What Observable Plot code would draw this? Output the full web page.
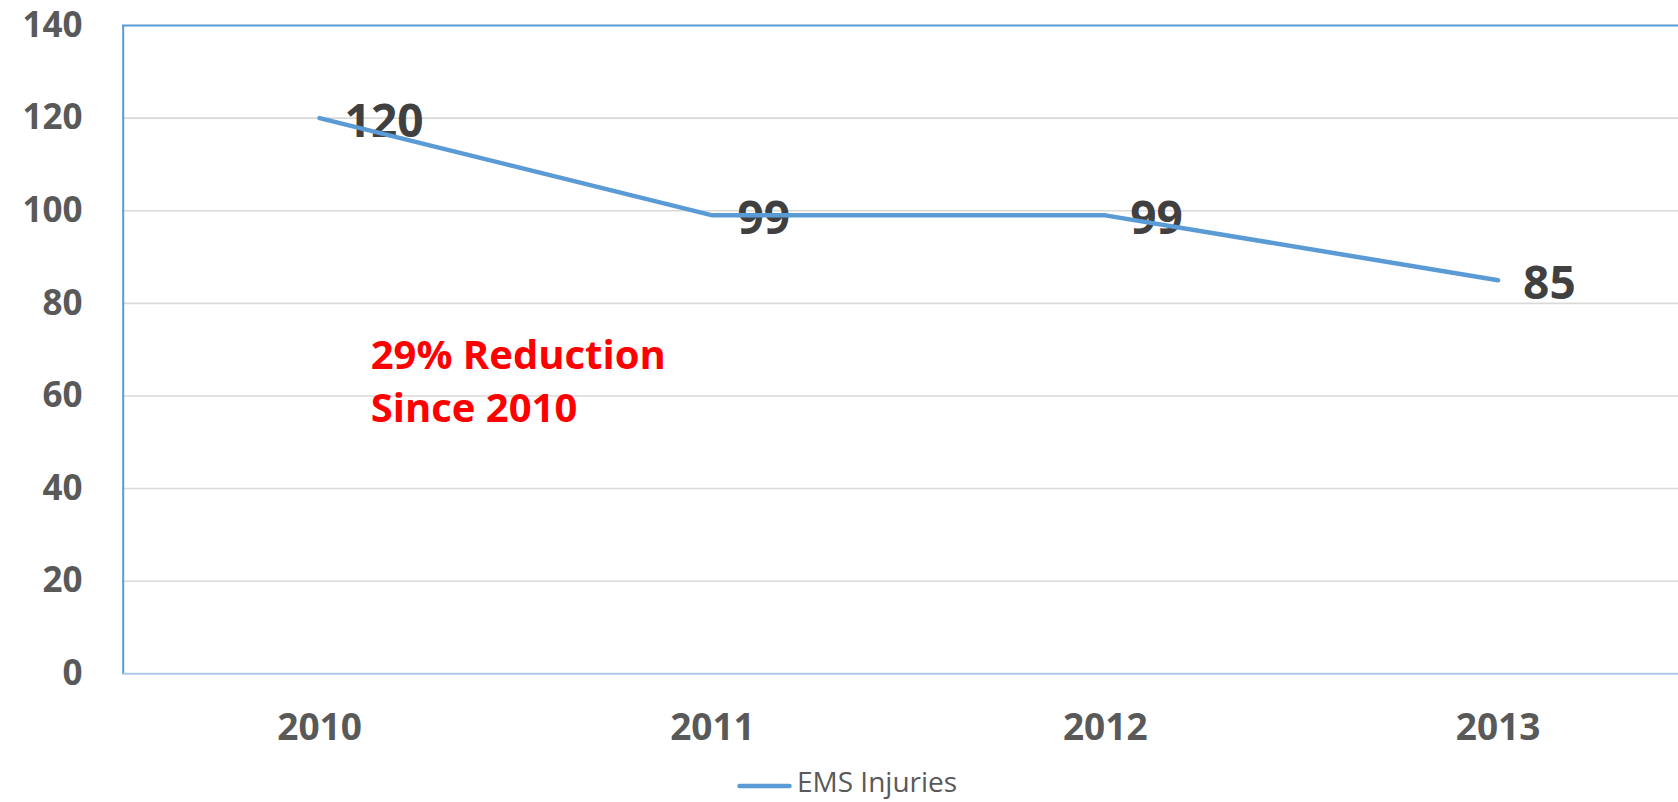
<!DOCTYPE html>
<html>
<head>
<meta charset="utf-8">
<script src="https://cdn.jsdelivr.net/npm/d3@7"></script>
<script src="https://cdn.jsdelivr.net/npm/@observablehq/plot@0.6"></script>
<style>
  html, body { margin: 0; padding: 0; background: #fff; }
  body { width: 1678px; height: 802px; overflow: hidden; position: relative; font-family: "Open Sans", sans-serif; }
  #legend { position: absolute; left: 0; top: 760px; height: 42px; width: 1678px; }
  #legend .item { position: absolute; left: 737px; top: 0; height: 42px; display: flex; align-items: center; }
  #legend .swatch { width: 55px; height: 42px; }
  #legend .label { font-size: 28px; color: #595959; margin-left: 5px; line-height: 42px; }
</style>
</head>
<body>
<div id="chart"></div>
<div id="legend"></div>
<script>
const years = [2010, 2011, 2012, 2013];
const injuries = [120, 99, 99, 85];
const yTicks = [0, 20, 40, 60, 80, 100, 120, 140];
const gridTicks = [20, 40, 60, 80, 100, 120];
const seriesName = "EMS Injuries";
const annotationText = "29% Reduction\nSince 2010";
const annotationAt = {year: 2010.13, value: 63.8};

const lineColor = "#5b9bd5";
const data = years.map((year, i) => ({year, value: injuries[i]}));

const chart = Plot.plot({
  width: 1678,
  height: 760,
  marginLeft: 122,
  marginRight: 0,
  marginTop: 25,
  marginBottom: 87,
  style: {fontFamily: "'Open Sans', sans-serif", background: "#fff"},
  x: {type: "linear", domain: [2009.5, 2013.5], range: [122.7, 1694], axis: null, label: null},
  y: {domain: [0, 140], range: [673.3, 25], axis: null, label: null},
  marks: [
    Plot.gridY(gridTicks, {stroke: "#d9d9d9", strokeOpacity: 1, strokeWidth: 1.6}),
    Plot.axisY(yTicks, {label: null, tickSize: 0, tickPadding: 40, fontSize: 35, fontWeight: "bold", fill: "#595959", tickFormat: d => String(d)}),
    Plot.axisX(years, {label: null, tickSize: 0, tickPadding: 40, fontSize: 37, fontWeight: "bold", fill: "#595959", tickFormat: d => String(d)}),
    Plot.ruleY([0], {stroke: "#adc8e6", strokeWidth: 2}),
    Plot.ruleY([140], {stroke: lineColor, strokeWidth: 2}),
    Plot.ruleX([2009.5], {stroke: lineColor, strokeWidth: 2}),
    Plot.text(data, {x: "year", y: "value", text: d => String(d.value), textAnchor: "start", dx: 25, dy: 4, fontSize: 46, fontWeight: "bold", fill: "#404040"}),
    Plot.line(data, {x: "year", y: "value", stroke: lineColor, strokeWidth: 4.5, strokeLinecap: "round", strokeLinejoin: "round"}),
    Plot.text([annotationAt], {x: "year", y: "value", text: () => annotationText, textAnchor: "start", lineHeight: 1.33, fontSize: 40, fontWeight: "bold", fill: "#ff0000"})
  ]
});
document.getElementById("chart").appendChild(chart);

const legend = document.getElementById("legend");
legend.innerHTML = `<div class="item"><svg class="swatch" viewBox="0 0 55 42"><line x1="2.5" x2="52.5" y1="26" y2="26" stroke="${lineColor}" stroke-width="4.5" stroke-linecap="round"/></svg><span class="label">${seriesName}</span></div>`;
</script>
</body>
</html>
